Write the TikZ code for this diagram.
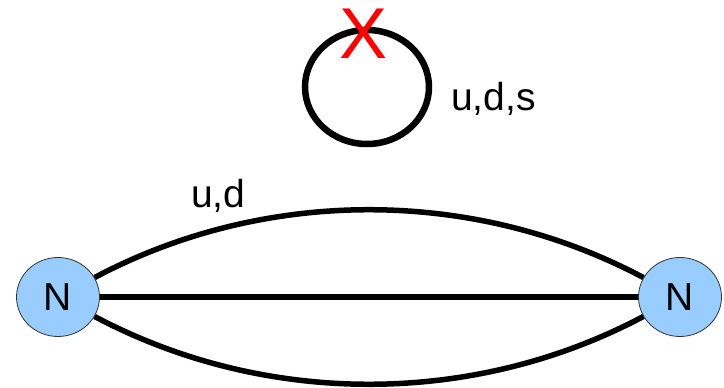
\documentclass[tikz,border=0pt]{standalone}
\usepackage{fontspec}
\setmainfont{Liberation Sans}
\usetikzlibrary{positioning,shapes.geometric}
\definecolor{nucblue}{RGB}{153,204,255}
\tikzset{
  nuc/.style={ellipse,draw=black!80,line width=0.8pt,fill=nucblue,
    minimum width=83pt,minimum height=79pt,inner sep=0pt,font=\fontsize{39}{42}\selectfont},
  qline/.style={line width=5.5pt,black},
  qloop/.style={ellipse,draw=black,line width=6.5pt,minimum width=124pt,
    minimum height=114pt,inner sep=0pt},
  flav/.style={font=\fontsize{39}{42}\selectfont,inner sep=0pt},
  cross/.style={red,font=\fontsize{72}{72}\selectfont,inner sep=0pt},
}

\begin{document}
\begin{tikzpicture}[x=1pt,y=-1pt]
  \useasboundingbox (0,0) rectangle (724,388);
  \node[nuc] (nl) at (58,297) {N};
  \node[nuc] (nr) at (680,297) {N};
  \node[qloop] (lp) at (367,87) {};
  \node[cross] (x) at (364,34) {X};
  \node[flav,anchor=base west] (uds) at (451,110) {u,d,s};
  \node[flav,anchor=base west] (ud) at (191,207) {u,d};
  \draw[qline] (nl) -- (nr);
  \draw[qline] (nl) to[out=28,in=152,looseness=0.9] (nr);
  \draw[qline] (nl) to[out=-28,in=-152,looseness=0.9] (nr);
\end{tikzpicture}
\end{document}
